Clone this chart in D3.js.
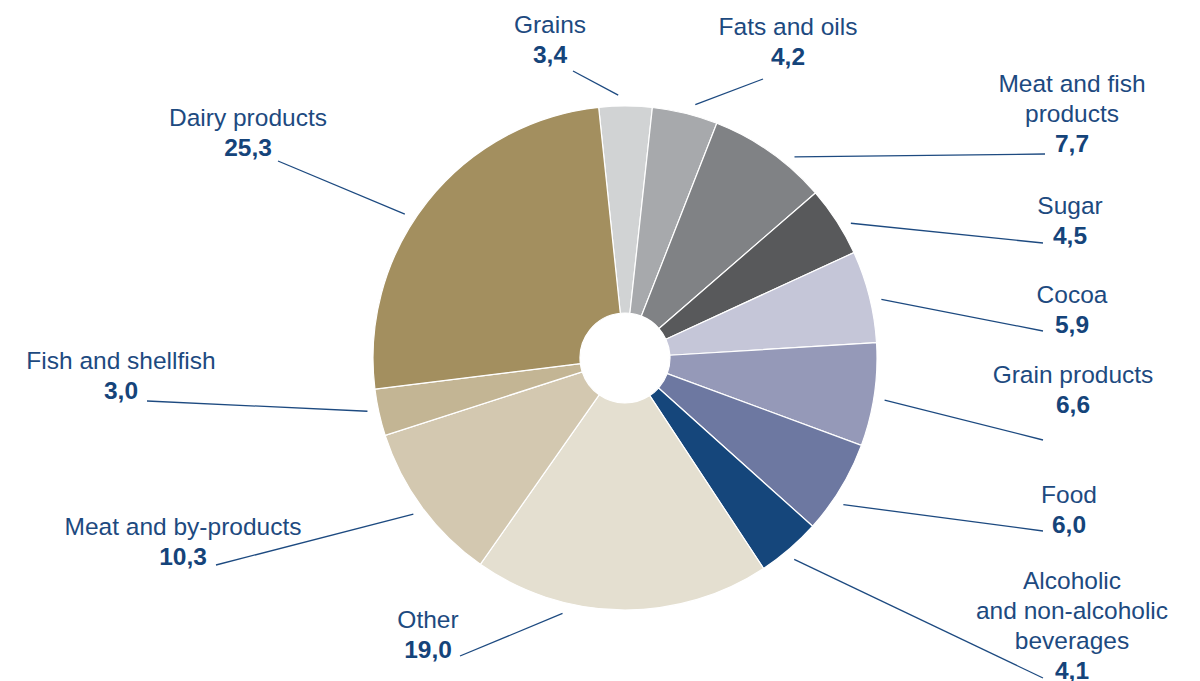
<!DOCTYPE html>
<html>
<head>
<meta charset="utf-8">
<script src="https://cdn.jsdelivr.net/npm/d3@7"></script>
<style>
  html, body { margin: 0; padding: 0; background: #ffffff; }
  svg { display: block; }
  text { font-family: "Liberation Sans", Arial, Helvetica, sans-serif; }
</style>
</head>
<body>
<svg id="chart" width="1200" height="681"></svg>
<script>
// ---- data ----
const categories = [
  "Grains", "Fats and oils", "Meat and fish products", "Sugar", "Cocoa",
  "Grain products", "Food", "Alcoholic and non-alcoholic beverages",
  "Other", "Meat and by-products", "Fish and shellfish", "Dairy products"
];
const values = [3.4, 4.2, 7.7, 4.5, 5.9, 6.6, 6.0, 4.1, 19.0, 10.3, 3.0, 25.3];
const valueLabels = ["3,4", "4,2", "7,7", "4,5", "5,9", "6,6", "6,0", "4,1", "19,0", "10,3", "3,0", "25,3"];
const nameLines = [
  ["Grains"], ["Fats and oils"], ["Meat and fish", "products"], ["Sugar"], ["Cocoa"],
  ["Grain products"], ["Food"], ["Alcoholic", "and non-alcoholic", "beverages"],
  ["Other"], ["Meat and by-products"], ["Fish and shellfish"], ["Dairy products"]
];
const colors = [
  "#d1d3d4", "#a7a9ac", "#808285", "#58595b", "#c5c6d8", "#9599b8",
  "#6d78a1", "#15467b", "#e4dfd0", "#d3c8b0", "#c3b594", "#a38f5f"
];

// ---- layout (label placement, not data) ----
const labelLayout = [
  { cx: 550,  y0: 33,  lx: 573,  ly: 71,  da: -1.6 },
  { cx: 788,  y0: 35,  lx: 763,  ly: 79,  da: 1.7 },
  { cx: 1072, y0: 92,  lx: 1045, ly: 154, da: 4.9 },
  { cx: 1070, y0: 214, lx: 1043, ly: 243, da: 2.0 },
  { cx: 1072, y0: 303, lx: 1043, ly: 331, da: 1.2 },
  { cx: 1073, y0: 383, lx: 1043, ly: 440, da: 0.8 },
  { cx: 1069, y0: 503, lx: 1043, ly: 531, da: 2.8 },
  { cx: 1072, y0: 589, lx: 1043, ly: 678, da: 0.7 },
  { cx: 428,  y0: 628, lx: 460,  ly: 656, da: 12.9 },
  { cx: 183,  y0: 535, lx: 216,  ly: 565, da: 0.0 },
  { cx: 121,  y0: 369, lx: 147,  ly: 401, da: 0.8 },
  { cx: 248,  y0: 126, lx: 278,  ly: 161, da: -5.3 }
];

const W = 1200, H = 681;
const cx = 625, cy = 358;
const outerR = 252, innerR = 45, leadR = 263;
const lineH = 30;
const textColor = "#1d4a80";
const valueColor = "#15447a";

const svg = d3.select("#chart");
const g = svg.append("g").attr("transform", `translate(${cx},${cy})`);

const startA = -6 * Math.PI / 180;
const pie = d3.pie()
  .value(d => d.value)
  .sort(null)
  .startAngle(startA)
  .endAngle(startA + 2 * Math.PI);

const data = categories.map((c, i) => ({ name: c, value: values[i], i }));
const arcs = pie(data);

const arc = d3.arc().innerRadius(innerR).outerRadius(outerR);

g.selectAll("path.slice")
  .data(arcs)
  .join("path")
  .attr("class", "slice")
  .attr("d", arc)
  .attr("fill", d => colors[d.data.i])
  .attr("stroke", "#ffffff")
  .attr("stroke-width", 1.2)
  .attr("stroke-linejoin", "round");

// leader lines
const lines = svg.append("g");
arcs.forEach(a => {
  const L = labelLayout[a.data.i];
  const mid = (a.startAngle + a.endAngle) / 2 + L.da * Math.PI / 180;
  const sx = cx + Math.sin(mid) * leadR;
  const sy = cy - Math.cos(mid) * leadR;
  lines.append("line")
    .attr("x1", sx).attr("y1", sy)
    .attr("x2", L.lx).attr("y2", L.ly)
    .attr("stroke", textColor)
    .attr("stroke-width", 1.3);
});

// labels
const labels = svg.append("g");
arcs.forEach(a => {
  const i = a.data.i;
  const L = labelLayout[i];
  const t = labels.append("text")
    .attr("text-anchor", "middle")
    .attr("font-size", 24.5);
  nameLines[i].forEach((ln, k) => {
    t.append("tspan")
      .attr("x", L.cx)
      .attr("y", L.y0 + k * lineH)
      .attr("fill", textColor)
      .text(ln);
  });
  t.append("tspan")
    .attr("x", L.cx)
    .attr("y", L.y0 + nameLines[i].length * lineH)
    .attr("fill", valueColor)
    .attr("font-weight", "bold")
    .text(valueLabels[i]);
});
</script>
</body>
</html>
